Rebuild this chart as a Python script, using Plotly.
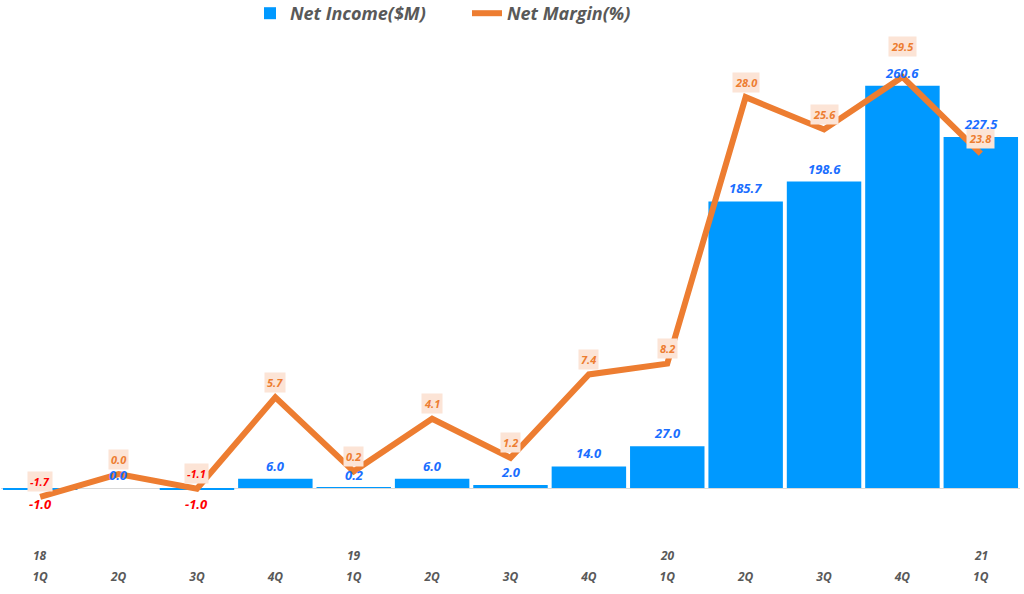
import plotly.graph_objects as go

categories = ["18-1Q", "18-2Q", "18-3Q", "18-4Q", "19-1Q", "19-2Q", "19-3Q", "19-4Q",
              "20-1Q", "20-2Q", "20-3Q", "20-4Q", "21-1Q"]
quarter_labels = ["1Q", "2Q", "3Q", "4Q", "1Q", "2Q", "3Q", "4Q", "1Q", "2Q", "3Q", "4Q", "1Q"]
year_labels = ["18", "", "", "", "19", "", "", "", "20", "", "", "", "21"]
net_income = [-1.0, 0.0, -1.0, 6.0, 0.2, 6.0, 2.0, 14.0, 27.0, 185.7, 198.6, 260.6, 227.5]
net_margin = [-1.7, 0.0, -1.1, 5.7, 0.2, 4.1, 1.2, 7.4, 8.2, 28.0, 25.6, 29.5, 23.8]

BAR_COLOR = "#0099FF"
BAR_TEXT = "#1A6EFF"
LINE_COLOR = "#ED7D31"
LABEL_BG = "#FCE4D6"
NEG_COLOR = "#FF0000"
GRAY = "#595959"
FONT = "Open Sans"

plot_top, plot_bottom = 30, 565
plot_left, plot_right = 1, 1020

fig = go.Figure()
fig.add_trace(go.Bar(
    x=categories, y=net_income, name="Net Income($M)",
    marker=dict(color=BAR_COLOR, line=dict(width=0)),
    yaxis="y",
))
fig.add_trace(go.Scatter(
    x=categories, y=net_margin, name="Net Margin(%)", mode="lines",
    line=dict(color=LINE_COLOR, width=6), yaxis="y2", cliponaxis=False,
))

annotations = []
# line (margin) labels
for i, (c, v) in enumerate(zip(categories, net_margin)):
    shift = 30 if i == 11 else 15
    annotations.append(dict(
        x=c, y=v, xref="x", yref="y2", text=f"{v:.1f}", showarrow=False,
        yshift=shift, yanchor="middle", bgcolor=LABEL_BG, borderpad=2,
        font=dict(family=FONT, size=11, weight="bold", style="italic",
                  color=NEG_COLOR if v < 0 else LINE_COLOR),
    ))
# bar (income) labels, drawn above the line
for c, v in zip(categories, net_income):
    annotations.append(dict(
        x=c, y=v, xref="x", yref="y", text=f"{v:.1f}", showarrow=False,
        yshift=-14 if v < 0 else 13, yanchor="middle",
        font=dict(family=FONT, size=13, weight="bold", style="italic",
                  color=NEG_COLOR if v < 0 else BAR_TEXT),
    ))
# year labels
for c, yl in zip(categories, year_labels):
    if yl:
        annotations.append(dict(
            x=c, y=(plot_bottom - 555) / (plot_bottom - plot_top), xref="x", yref="paper",
            text=yl, showarrow=False, yanchor="middle",
            font=dict(family=FONT, size=12, weight="bold", style="italic", color=GRAY),
        ))

fig.update_layout(
    width=1024, height=594,
    margin=dict(l=plot_left, r=1024 - plot_right, t=plot_top, b=594 - plot_bottom,
                autoexpand=False),
    paper_bgcolor="white", plot_bgcolor="white",
    bargap=0.05,
    showlegend=True,
    legend=dict(orientation="h", x=(250 - plot_left) / (plot_right - plot_left),
                xanchor="left", y=1.0 - 2 / (plot_bottom - plot_top), yanchor="bottom",
                entrywidth=172,
                font=dict(family=FONT, size=18, weight="bold", style="italic", color=GRAY),
                itemwidth=30, bgcolor="rgba(0,0,0,0)"),
    xaxis=dict(type="category", tickmode="array", tickvals=categories, ticktext=quarter_labels,
               showgrid=False, showline=False, ticks="", ticklabelstandoff=3,
               tickfont=dict(family=FONT, size=12, weight="bold", style="italic", color=GRAY)),
    yaxis=dict(range=[-49.9, 296.8], showgrid=False, showticklabels=False,
               zeroline=True, zerolinecolor="#D9D9D9", zerolinewidth=1),
    yaxis2=dict(range=[-6.76, 32.99], overlaying="y", side="right", showgrid=False,
                showticklabels=False, zeroline=False),
    annotations=annotations,
)

fig.write_html("out.html", config={"displayModeBar": False},
               post_script="document.body.style.margin='0px';")
